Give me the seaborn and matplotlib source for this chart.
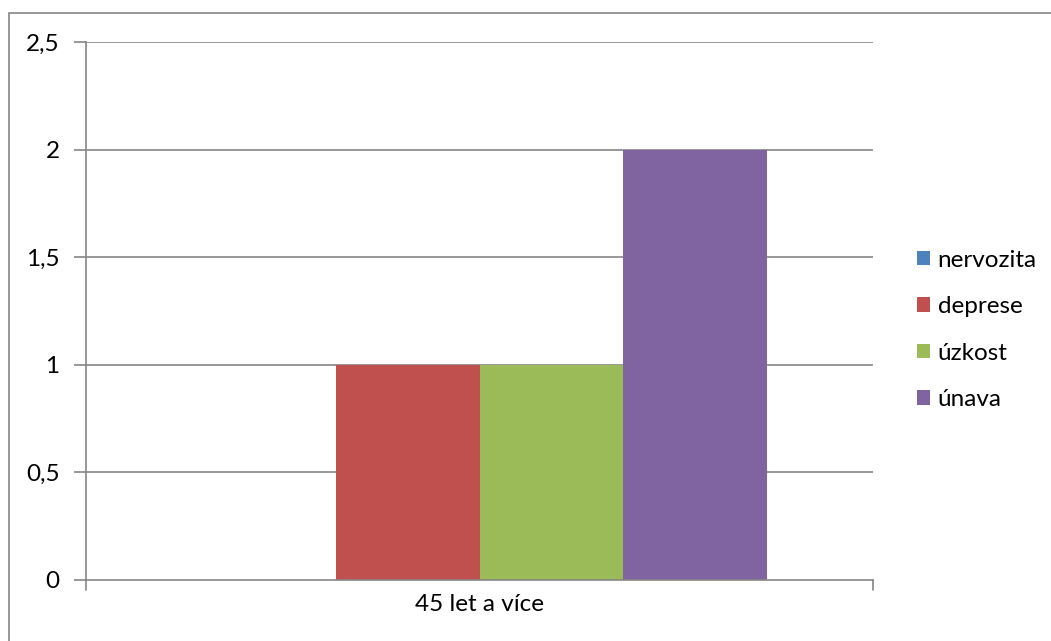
import matplotlib
matplotlib.use("Agg")
import matplotlib.pyplot as plt
import seaborn as sns
import pandas as pd
from matplotlib.patches import Rectangle

categories = ["45 let a více"]
series = ["nervozita", "deprese", "úzkost", "únava"]
values = [0, 1, 1, 2]
colors = ["#4F81BD", "#C0504D", "#9BBB59", "#8064A2"]
yticks = [0, 0.5, 1, 1.5, 2, 2.5]
ytick_labels = ["0", "0,5", "1", "1,5", "2", "2,5"]

df = pd.DataFrame({"cat": categories * len(series), "series": series, "value": values})

sns.set_theme(style="white")
plt.rcParams["font.family"] = ["Lato", "DejaVu Sans"]

FS = 17.5
W, H = 1051, 641
fig = plt.figure(figsize=(W / 100, H / 100), dpi=100)
ax = fig.add_axes([86 / W, (H - 580) / H, (873 - 86) / W, (580 - 42) / H])

sns.barplot(data=df, x="cat", y="value", hue="series", hue_order=series,
            palette=colors, width=0.73, saturation=1, ax=ax, legend=True,
            errorbar=None, linewidth=0)

ax.set_xlim(-0.5, 0.5)
ax.set_ylim(0, 2.5)
ax.set_yticks(yticks)
ax.set_yticklabels(ytick_labels)
ax.set_xlabel("")
ax.set_ylabel("")
grey = "#868686"
for y in yticks[1:]:
    ax.axhline(y, color=grey, lw=1.2, zorder=0)
for s in ["top", "right"]:
    ax.spines[s].set_visible(False)
for s in ["left", "bottom"]:
    ax.spines[s].set_color(grey)
    ax.spines[s].set_linewidth(1.2)
ax.tick_params(axis="y", length=9, width=1.2, color=grey, direction="out",
               labelsize=FS, pad=10, left=True, labelcolor="black")
ax.tick_params(axis="x", length=0, labelsize=FS, pad=10, labelcolor="black")
ax.set_axisbelow(True)
ax.set_xticks([-0.5, 0, 0.5], minor=False)
ax.set_xticklabels(["", categories[0], ""])
ax.plot([-0.5, -0.5], [0, -0.018], transform=ax.get_xaxis_transform(), color=grey, lw=1.2, clip_on=False)
ax.plot([0.5, 0.5], [0, -0.018], transform=ax.get_xaxis_transform(), color=grey, lw=1.2, clip_on=False)

leg = ax.legend(loc="center left", bbox_to_anchor=(917 / W, (H - 330) / H),
                bbox_transform=fig.transFigure, frameon=False, fontsize=FS,
                handlelength=0.55, handleheight=0.55, handletextpad=0.3,
                labelspacing=1.05, borderaxespad=0, borderpad=0)
for t in leg.get_texts():
    t.set_color("black")

fig.patches.append(Rectangle((9 / W, -0.1), 1.2, (H - 13) / H + 0.1,
                             transform=fig.transFigure, fill=False,
                             edgecolor=grey, lw=1.2))

fig.savefig("out.png", dpi=100, facecolor="white")
